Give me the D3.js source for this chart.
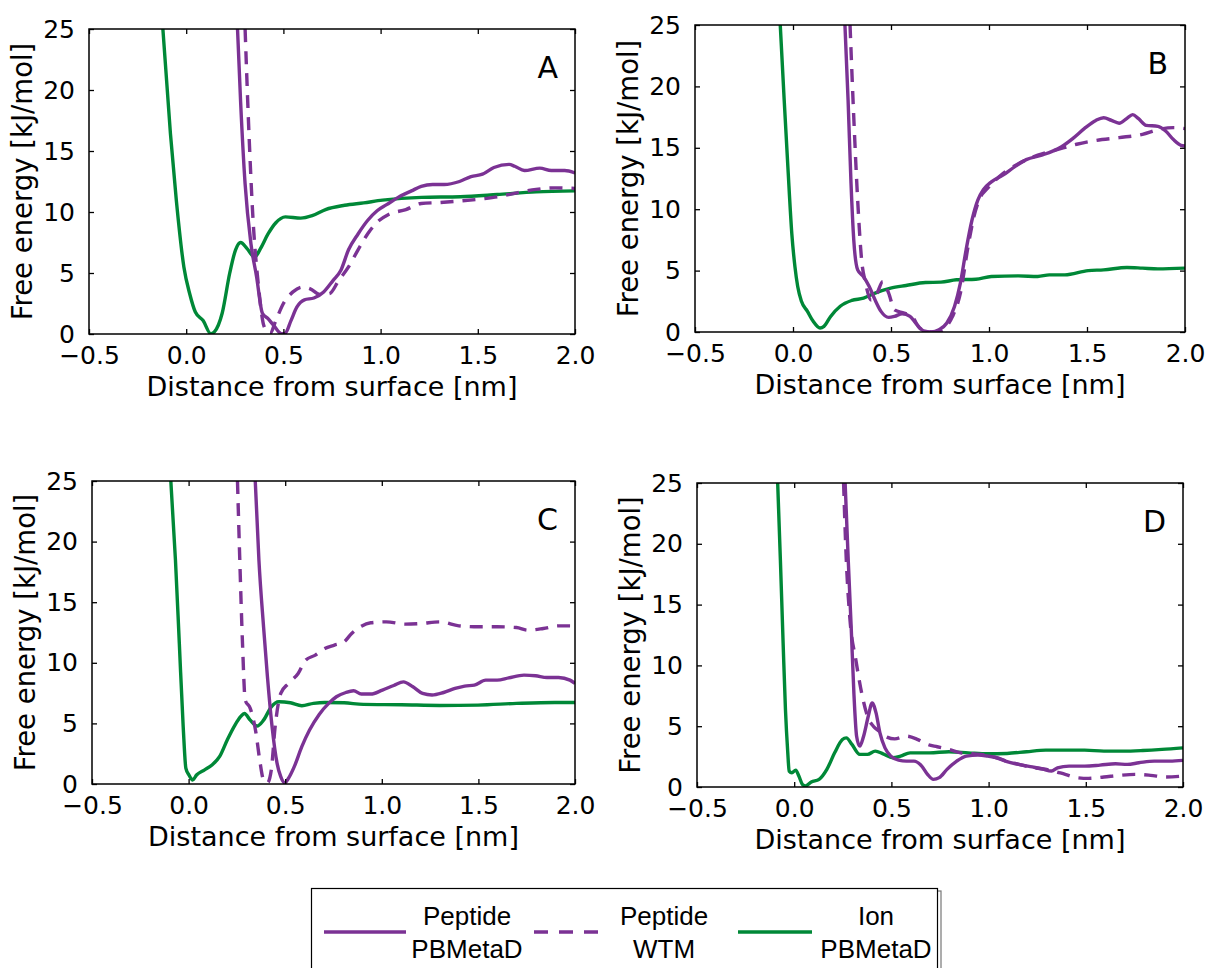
<!DOCTYPE html>
<html>
<head>
<meta charset="utf-8">
<script src="https://cdn.jsdelivr.net/npm/d3@7"></script>
<style>
  html, body { margin: 0; padding: 0; background: #fff; }
  svg { display: block; }
</style>
</head>
<body>
<svg id="chart" width="1208" height="968"></svg>
<script>
// ---------------- DATA ----------------
const panelLabels = ["A", "B", "C", "D"];
const xTickValues = [-0.5, 0.0, 0.5, 1.0, 1.5, 2.0];
const xTickLabels = ["\u22120.5", "0.0", "0.5", "1.0", "1.5", "2.0"];
const yTickValues = [0, 5, 10, 15, 20, 25];
const yTickLabels = ["0", "5", "10", "15", "20", "25"];
const seriesNames = [["Peptide", "PBMetaD"], ["Peptide", "WTM"], ["Ion", "PBMetaD"]];

// Panel A
const A_peptidePB = [[0.264,25],[0.28,19.0],[0.303,12.3],[0.333,7.4],[0.362,4.7],[0.392,1.7],[0.421,1.26],[0.45,0.7],[0.49,0.03],[0.51,0.08],[0.539,1.1],[0.569,2.2],[0.608,2.8],[0.657,2.95],[0.707,3.45],[0.756,4.4],[0.795,5.2],[0.835,6.9],[0.884,8.2],[0.933,9.3],[0.982,10.1],[1.031,10.6],[1.09,11.2],[1.159,11.73],[1.209,12.1],[1.268,12.25],[1.327,12.25],[1.406,12.5],[1.465,12.9],[1.524,13.1],[1.583,13.65],[1.661,13.9],[1.69,13.75],[1.74,13.4],[1.819,13.6],[1.878,13.4],[1.947,13.4],[2.0,13.2]];
const A_peptideWTM = [[0.303,25],[0.323,16.4],[0.343,9.6],[0.372,3.9],[0.401,0.6],[0.431,0.03],[0.461,1.1],[0.5,2.5],[0.549,3.45],[0.598,3.85],[0.638,3.7],[0.687,3.25],[0.736,3.3],[0.785,4.4],[0.835,5.5],[0.884,6.9],[0.933,8.2],[0.992,9.3],[1.041,9.8],[1.13,10.2],[1.209,10.7],[1.307,10.78],[1.406,10.9],[1.524,11.08],[1.602,11.24],[1.70,11.57],[1.80,11.85],[1.898,11.98],[2.0,11.93]];
const A_ionPB = [[-0.12,25],[-0.081,16.4],[-0.051,11],[-0.012,5.5],[0.018,3.3],[0.047,1.8],[0.087,1.1],[0.126,0.03],[0.146,0.2],[0.185,1.7],[0.224,5.0],[0.254,6.9],[0.28,7.5],[0.313,7.0],[0.352,6.3],[0.382,7.0],[0.421,8.2],[0.46,9.1],[0.51,9.6],[0.589,9.5],[0.648,9.7],[0.717,10.2],[0.815,10.55],[0.913,10.75],[1.01,10.97],[1.21,11.2],[1.41,11.25],[1.60,11.43],[1.80,11.65],[2.0,11.73]];

// Panel B
const B_peptidePB = [[0.265,25],[0.281,18.9],[0.296,12.1],[0.31,7.5],[0.33,5.06],[0.36,4.5],[0.389,3.7],[0.419,2.6],[0.449,1.68],[0.488,1.19],[0.518,1.27],[0.557,1.49],[0.597,1.27],[0.626,0.73],[0.666,0.1],[0.706,0],[0.745,0.19],[0.785,0.73],[0.824,2.08],[0.854,3.98],[0.883,6.68],[0.913,9.1],[0.943,10.74],[0.972,11.6],[1.012,12.23],[1.071,12.77],[1.13,13.45],[1.19,14.04],[1.269,14.4],[1.368,15.07],[1.427,15.75],[1.486,16.56],[1.545,17.23],[1.585,17.45],[1.625,17.23],[1.664,17.0],[1.704,17.4],[1.733,17.7],[1.763,17.37],[1.802,16.83],[1.862,16.75],[1.901,16.37],[1.941,15.67],[1.98,15.2],[2.0,15.15]];
const B_peptideWTM = [[0.291,25],[0.31,17.5],[0.33,10.74],[0.35,5.87],[0.37,4.0],[0.399,2.6],[0.429,3.17],[0.458,4.1],[0.488,3.17],[0.518,1.8],[0.567,1.54],[0.607,1.27],[0.646,0.32],[0.696,0],[0.735,0],[0.775,0.32],[0.814,1.27],[0.854,3.17],[0.893,6.95],[0.923,9.39],[0.953,10.88],[0.992,11.69],[1.071,12.9],[1.15,13.7],[1.249,14.4],[1.348,14.85],[1.447,15.29],[1.545,15.6],[1.664,15.83],[1.783,16.1],[1.862,16.48],[1.941,16.64],[2.0,16.56]];
const B_ionPB = [[-0.065,25],[-0.045,18.9],[-0.026,13.4],[-0.006,8.0],[0.01,5.3],[0.024,3.7],[0.043,2.5],[0.073,1.7],[0.103,0.87],[0.138,0.32],[0.158,0.46],[0.192,1.27],[0.241,2.1],[0.30,2.57],[0.36,2.76],[0.419,3.17],[0.498,3.57],[0.577,3.79],[0.676,4.03],[0.755,4.06],[0.834,4.25],[0.933,4.3],[1.012,4.52],[1.15,4.57],[1.249,4.52],[1.308,4.65],[1.387,4.65],[1.506,5.0],[1.585,5.06],[1.704,5.25],[1.783,5.2],[1.862,5.14],[2.0,5.2]];

// Panel C
const C_peptidePB = [[0.345,25],[0.364,18.46],[0.388,12.97],[0.408,8.85],[0.432,4.73],[0.458,1.7],[0.477,0.6],[0.497,0.1],[0.517,0.47],[0.547,1.43],[0.586,3.08],[0.626,4.45],[0.676,5.74],[0.725,6.65],[0.765,7.2],[0.814,7.55],[0.854,7.69],[0.894,7.42],[0.943,7.42],[1.003,7.75],[1.062,8.13],[1.112,8.43],[1.161,8.02],[1.211,7.47],[1.26,7.34],[1.32,7.55],[1.379,7.88],[1.429,8.08],[1.479,8.16],[1.538,8.57],[1.597,8.57],[1.657,8.76],[1.736,8.98],[1.796,8.93],[1.855,8.79],[1.915,8.79],[1.974,8.57],[2.0,8.3]];
const C_peptideWTM = [[0.253,25],[0.265,18.46],[0.279,11.6],[0.293,6.92],[0.319,6.24],[0.349,4.18],[0.368,1.98],[0.388,0.33],[0.408,0.1],[0.428,1.15],[0.448,4.73],[0.477,7.47],[0.517,8.3],[0.567,9.12],[0.606,10.22],[0.656,10.63],[0.705,11.18],[0.755,11.46],[0.805,11.73],[0.844,12.42],[0.894,13.02],[0.943,13.3],[1.023,13.38],[1.122,13.19],[1.201,13.24],[1.30,13.38],[1.399,13.05],[1.498,12.97],[1.598,12.97],[1.697,12.91],[1.756,12.69],[1.836,12.83],[1.915,13.05],[2.0,13.05]];
const C_ionPB = [[-0.092,25],[-0.068,18.46],[-0.048,11.6],[-0.028,4.73],[-0.014,1.29],[0.002,0.74],[0.021,0.33],[0.041,0.74],[0.081,1.15],[0.121,1.57],[0.16,2.25],[0.2,3.63],[0.24,4.86],[0.269,5.55],[0.289,5.82],[0.319,5.27],[0.354,4.78],[0.388,5.27],[0.428,6.37],[0.467,6.79],[0.527,6.7],[0.586,6.46],[0.646,6.65],[0.705,6.73],[0.805,6.7],[0.904,6.57],[1.102,6.54],[1.30,6.48],[1.498,6.51],[1.697,6.65],[1.895,6.73],[2.0,6.73]];

// Panel D
const D_peptidePB = [[0.262,25],[0.278,18.66],[0.293,13.2],[0.307,7.73],[0.321,4.18],[0.337,3.36],[0.357,4.18],[0.381,5.82],[0.401,6.91],[0.421,6.09],[0.441,4.45],[0.467,3.22],[0.497,2.54],[0.537,2.21],[0.577,2.13],[0.616,2.13],[0.656,1.72],[0.686,1.04],[0.716,0.63],[0.746,0.77],[0.786,1.45],[0.836,2.13],[0.886,2.54],[0.945,2.62],[0.995,2.54],[1.055,2.35],[1.095,2.08],[1.155,1.86],[1.215,1.67],[1.274,1.5],[1.324,1.31],[1.354,1.58],[1.414,1.72],[1.494,1.72],[1.573,1.8],[1.653,1.91],[1.713,1.86],[1.773,1.99],[1.852,2.13],[1.932,2.13],[2.0,2.19]];
const D_peptideWTM = [[0.254,25],[0.268,18.66],[0.287,13.74],[0.317,10.46],[0.347,7.73],[0.377,5.82],[0.407,5.0],[0.437,4.59],[0.477,4.1],[0.517,3.96],[0.577,4.18],[0.636,3.9],[0.686,3.5],[0.736,3.31],[0.796,3.09],[0.856,2.81],[0.916,2.73],[0.995,2.6],[1.075,2.21],[1.155,1.86],[1.234,1.58],[1.314,1.39],[1.394,1.04],[1.454,0.77],[1.514,0.71],[1.593,0.82],[1.673,0.96],[1.753,1.04],[1.833,0.96],[1.912,0.82],[2.0,0.9]];
const D_ionPB = [[-0.085,25],[-0.071,18.66],[-0.057,11.83],[-0.045,6.37],[-0.033,2.81],[-0.026,1.31],[-0.012,1.17],[0.008,1.39],[0.024,0.9],[0.042,0.22],[0.058,0.08],[0.088,0.41],[0.128,0.63],[0.168,1.45],[0.208,2.81],[0.248,3.9],[0.268,4.04],[0.297,3.5],[0.337,2.68],[0.377,2.68],[0.417,2.95],[0.457,2.73],[0.507,2.4],[0.547,2.54],[0.596,2.81],[0.696,2.81],[0.796,2.9],[0.896,2.81],[0.995,2.73],[1.095,2.76],[1.195,2.9],[1.294,3.03],[1.394,3.03],[1.494,3.03],[1.593,2.95],[1.693,2.95],[1.793,3.0],[1.892,3.09],[2.0,3.22]];

const panelSeries = [
  [A_peptidePB, A_peptideWTM, A_ionPB],
  [B_peptidePB, B_peptideWTM, B_ionPB],
  [C_peptidePB, C_peptideWTM, C_ionPB],
  [D_peptidePB, D_peptideWTM, D_ionPB]
];

// ---------------- STYLE / LAYOUT ----------------
const PURPLE = "#7b3294", GREEN = "#008837";
const seriesStyle = [
  { color: PURPLE, dash: null },
  { color: PURPLE, dash: "13,9" },
  { color: GREEN, dash: null }
];
const panels = [
  { x0: 89,  x1: 575,  y0: 29,  y1: 334 },
  { x0: 695, x1: 1185, y0: 25,  y1: 332 },
  { x0: 92,  x1: 575,  y0: 481, y1: 784 },
  { x0: 697, x1: 1183, y0: 483, y1: 787 }
];
const TICK_FONT = "DejaVu Sans, sans-serif";
const svg = d3.select("#chart");

panels.forEach((p, i) => {
  const x = d3.scaleLinear().domain([-0.5, 2.0]).range([p.x0, p.x1]);
  const y = d3.scaleLinear().domain([0, 25]).range([p.y1, p.y0]);
  const g = svg.append("g");
  const clipId = "clip" + i;
  svg.append("clipPath").attr("id", clipId)
    .append("rect").attr("x", p.x0).attr("y", p.y0)
    .attr("width", p.x1 - p.x0).attr("height", p.y1 - p.y0);

  const line = d3.line().x(d => x(d[0])).y(d => y(d[1])).curve(d3.curveMonotoneX);
  const order = [2, 1, 0];
  const gl = g.append("g").attr("clip-path", `url(#${clipId})`);
  order.forEach(k => {
    gl.append("path").datum(panelSeries[i][k])
      .attr("d", line)
      .attr("fill", "none")
      .attr("stroke", seriesStyle[k].color)
      .attr("stroke-width", 3.4)
      .attr("stroke-linejoin", "round")
      .attr("stroke-dasharray", seriesStyle[k].dash);
  });

  const fmtX = (d) => xTickLabels[xTickValues.indexOf(d)];
  const fmtY = (d) => yTickLabels[yTickValues.indexOf(d)];
  const axB = d3.axisBottom(x).tickValues(xTickValues).tickFormat(fmtX).tickSizeInner(-5).tickSizeOuter(0).tickPadding(11);
  const axT = d3.axisTop(x).tickValues(xTickValues).tickFormat("").tickSizeInner(-5).tickSizeOuter(0);
  const axL = d3.axisLeft(y).tickValues(yTickValues).tickFormat(fmtY).tickSizeInner(-5).tickSizeOuter(0).tickPadding(14);
  const axR = d3.axisRight(y).tickValues(yTickValues).tickFormat("").tickSizeInner(-5).tickSizeOuter(0);

  const gB = g.append("g").attr("transform", `translate(0,${p.y1})`).call(axB);
  const gT = g.append("g").attr("transform", `translate(0,${p.y0})`).call(axT);
  const gL = g.append("g").attr("transform", `translate(${p.x0},0)`).call(axL);
  const gR = g.append("g").attr("transform", `translate(${p.x1},0)`).call(axR);
  [gB, gT, gL, gR].forEach(a => {
    a.select(".domain").remove();
    a.selectAll(".tick line").attr("stroke", "#000").attr("stroke-width", 1.3);
    a.selectAll(".tick text").attr("font-family", TICK_FONT).attr("font-size", 25).attr("fill", "#000");
  });
  gB.selectAll(".tick text").attr("dy", "0.76em");

  g.append("rect").attr("x", p.x0).attr("y", p.y0)
    .attr("width", p.x1 - p.x0).attr("height", p.y1 - p.y0)
    .attr("fill", "none").attr("stroke", "#000").attr("stroke-width", 1.5);

  g.append("text")
    .attr("x", (p.x0 + p.x1) / 2).attr("y", p.y1 + 62)
    .attr("text-anchor", "middle")
    .attr("font-family", TICK_FONT).attr("font-size", 27)
    .text("Distance from surface [nm]");
  g.append("text")
    .attr("transform", `translate(${p.x0 - 57},${(p.y0 + p.y1) / 2}) rotate(-90)`)
    .attr("text-anchor", "middle")
    .attr("font-family", TICK_FONT).attr("font-size", 27.5)
    .text("Free energy [kJ/mol]");

  g.append("text")
    .attr("x", p.x1 - 17).attr("y", p.y0 + 49)
    .attr("text-anchor", "end")
    .attr("font-family", TICK_FONT).attr("font-size", 30)
    .text(panelLabels[i]);
});

// ---------------- LEGEND ----------------
const lg = svg.append("g");
lg.append("rect").attr("x", 314).attr("y", 891).attr("width", 627).attr("height", 120)
  .attr("fill", "none").attr("stroke", "#777").attr("stroke-width", 1.2);
lg.append("rect").attr("x", 311.5).attr("y", 888.5).attr("width", 626).attr("height", 120)
  .attr("fill", "#fff").attr("stroke", "#000").attr("stroke-width", 1.2);

const legendItems = [
  { x1: 324, x2: 406, tx: 467 },
  { x1: 534, x2: 601, tx: 664 },
  { x1: 738, x2: 812, tx: 876 }
];
legendItems.forEach((it, k) => {
  lg.append("line").attr("x1", it.x1).attr("x2", it.x2).attr("y1", 932).attr("y2", 932)
    .attr("stroke", seriesStyle[k].color).attr("stroke-width", 3.5)
    .attr("stroke-dasharray", seriesStyle[k].dash ? "14,11" : null);
  const t = lg.append("text").attr("text-anchor", "middle")
    .attr("font-family", "Liberation Sans, Arial, sans-serif").attr("font-size", 26);
  t.append("tspan").attr("x", it.tx).attr("y", 925).text(seriesNames[k][0]);
  t.append("tspan").attr("x", it.tx).attr("y", 958).text(seriesNames[k][1]);
});
</script>
</body>
</html>
